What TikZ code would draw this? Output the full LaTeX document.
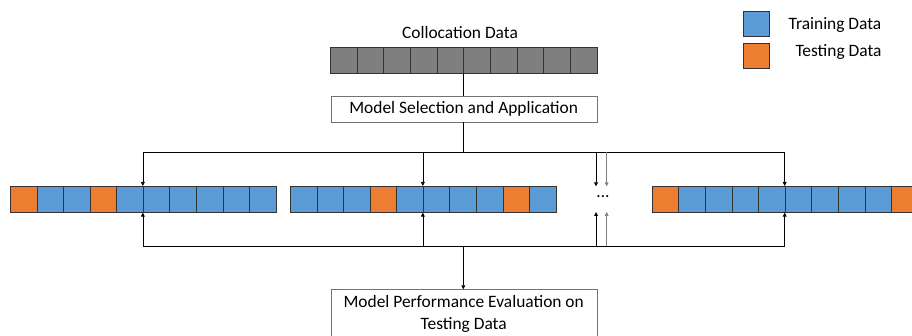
\documentclass[tikz,border=0pt]{standalone}
\usepackage{fontspec}
\setmainfont{Carlito}
\usetikzlibrary{arrows.meta}
\definecolor{cG}{HTML}{7F7F7F}
\definecolor{cB}{HTML}{5B9BD5}
\definecolor{cO}{HTML}{ED7D31}
\begin{document}
\begin{tikzpicture}[x=1pt,y=-1pt,
  cell/.style={draw=black!80, line width=0.8pt, minimum width=26.6pt, minimum height=25.8pt, inner sep=0pt, anchor=north west},
  box/.style={draw=black!55, line width=0.6pt, fill=white, inner sep=0pt, anchor=north west},
  conn/.style={line width=0.7pt},
  arr/.style={conn, -{Triangle[length=4pt,width=3.8pt]}},
  lbl/.style={font=\fontsize{17.4}{22}\selectfont, inner sep=0pt}]
\useasboundingbox (0,0) rectangle (912,336);

% top grey bar
\foreach \i in {0,...,9}
  \node[cell, fill=cG] (g\i) at ({330+\i*26.67},47.3) {};
\node[lbl] (coll) at (460,33) {Collocation Data};

% model selection box
\node[box, minimum width=266pt, minimum height=25.7pt] (sel) at (330.7,96) {};
\node[lbl] (seltxt) at (463.7,109) {Model Selection and Application};

% rows
\foreach \c [count=\i from 0] in {O,B,B,O,B,B,B,B,B,B}
  \node[cell, fill=c\c] (ra\i) at ({10+\i*26.57},186) {};
\foreach \c [count=\i from 0] in {B,B,B,O,B,B,B,B,O,B}
  \node[cell, fill=c\c] (rb\i) at ({290+\i*26.57},186) {};
\foreach \c [count=\i from 0] in {O,B,B,B,B,B,B,B,B,O}
  \node[cell, fill=c\c] (rc\i) at ({651.7+\i*26.6},186) {};
\node[lbl] (dots) at (603,197) {...};

% evaluation box
\node[box, minimum width=266pt, minimum height=60pt] (eval) at (330.7,289.3) {};
\node[lbl, align=center] (evaltxt) at (463.7,313.5) {Model Performance Evaluation on\\Testing Data};

% legend
\node[cell, fill=cB, minimum width=26pt, minimum height=25pt] (legB) at (743.3,11) {};
\node[cell, fill=cO, minimum width=26pt, minimum height=25pt] (legO) at (743.3,43.5) {};
\node[lbl] (legBt) at (835,25) {Training Data};
\node[lbl] (legOt) at (838.5,52) {Testing Data};

% coordinates
\coordinate (tj) at (463.3,152.3);
\coordinate (bj) at (463.3,246);
\coordinate (e1t) at (596,152.3);
\coordinate (e2t) at (606.7,152.3);
\coordinate (e1b) at (596,246);
\coordinate (e2b) at (606.7,246);

% connectors
\draw[conn] (g5.south west) -- (g5.south west |- sel.north);
\draw[conn] (sel.south -| tj) -- (tj);
\draw[arr] (tj) -| (ra5.north west);
\draw[arr] (tj) -| (rc5.north west);
\draw[arr] (rb5.north west |- tj) -- (rb5.north west);
\draw[arr] (bj) -| (ra5.south west);
\draw[arr] (bj) -| (rc5.south west);
\draw[arr] (rb5.south west |- bj) -- (rb5.south west);
\draw[arr] (e1t) -- ++(0,34);
\draw[arr, draw=black!50, fill=black!50] (e2t) -- ++(0,34);
\draw[arr] (e1b) -- ++(0,-34);
\draw[arr, draw=black!50, fill=black!50] (e2b) -- ++(0,-34);
\draw[arr] (bj) -- (eval.north -| bj);
\end{tikzpicture}
\end{document}
